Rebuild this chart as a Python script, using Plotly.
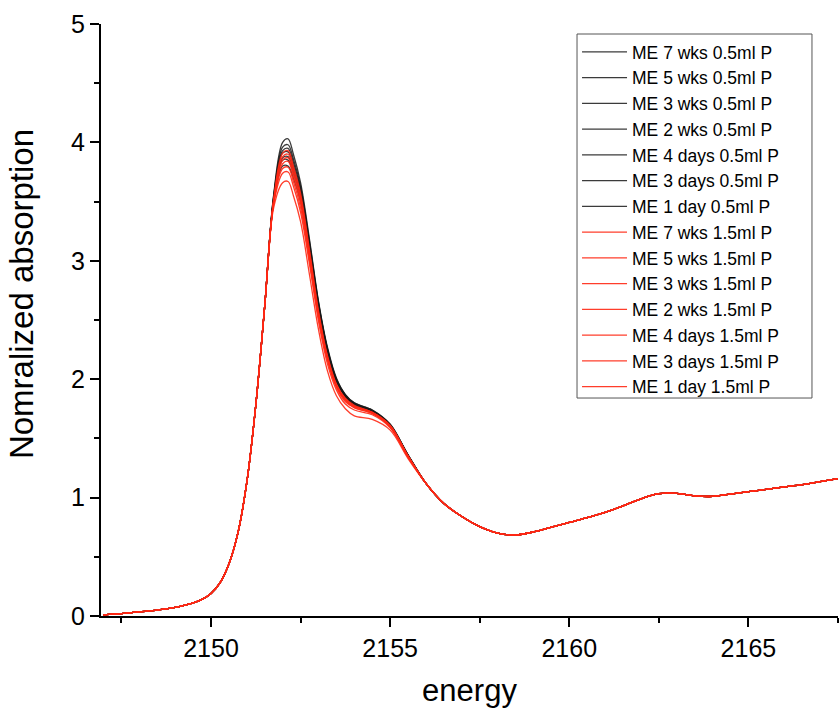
import plotly.graph_objects as go

# ---- energy grid (eV) ----
energy_rise = [2147.0, 2147.5, 2148.0, 2148.5, 2148.75, 2149.0, 2149.25, 2149.5, 2149.75,
               2150.0, 2150.25, 2150.5, 2150.75, 2151.0, 2151.25, 2151.5]
energy_peak = [2151.75, 2152.0, 2152.15, 2152.3, 2152.5, 2152.75, 2153.0, 2153.25,
               2153.5, 2153.75, 2154.0, 2154.5, 2155.0, 2155.5]
energy_tail = [2156.0, 2156.5, 2157.0, 2157.5, 2158.0, 2158.5, 2159.0, 2159.5,
               2160.0, 2160.5, 2161.0, 2161.5, 2162.0, 2162.5, 2163.0, 2163.5,
               2164.0, 2164.5, 2165.0, 2165.5, 2166.0, 2166.5, 2167.0, 2167.5]

# ---- shared parts of the spectra (all samples overlap here) ----
mu_rise = [0.01, 0.02, 0.035, 0.05, 0.06, 0.073, 0.09, 0.11, 0.14,
           0.19, 0.28, 0.44, 0.70, 1.13, 1.78, 2.62]
mu_tail = [1.12, 0.95, 0.84, 0.755, 0.70, 0.685, 0.71, 0.75, 0.79, 0.83, 0.875, 0.93,
           0.99, 1.033, 1.035, 1.015, 1.01, 1.03, 1.05, 1.07, 1.09, 1.11, 1.135, 1.16]

# ---- white-line / shoulder region, per sample ----
names = ["ME 7 wks 0.5ml P", "ME 5 wks 0.5ml P", "ME 3 wks 0.5ml P", "ME 2 wks 0.5ml P",
         "ME 4 days 0.5ml P", "ME 3 days 0.5ml P", "ME 1 day 0.5ml P",
         "ME 7 wks 1.5ml P", "ME 5 wks 1.5ml P", "ME 3 wks 1.5ml P", "ME 2 wks 1.5ml P",
         "ME 4 days 1.5ml P", "ME 3 days 1.5ml P", "ME 1 day 1.5ml P"]

peak_b7w = [3.56, 4.00, 4.03, 3.90, 3.66, 3.18, 2.66, 2.27, 2.01, 1.87, 1.80, 1.74, 1.62, 1.36]
peak_b5w = [3.55, 3.96, 3.98, 3.86, 3.63, 3.16, 2.65, 2.26, 2.00, 1.87, 1.80, 1.74, 1.62, 1.36]
peak_b3w = [3.54, 3.93, 3.95, 3.83, 3.61, 3.14, 2.64, 2.25, 2.00, 1.86, 1.79, 1.73, 1.61, 1.36]
peak_b2w = [3.53, 3.91, 3.92, 3.80, 3.59, 3.13, 2.63, 2.25, 1.99, 1.86, 1.79, 1.73, 1.61, 1.36]
peak_b4d = [3.52, 3.87, 3.88, 3.77, 3.56, 3.11, 2.62, 2.24, 1.99, 1.86, 1.79, 1.73, 1.61, 1.35]
peak_b3d = [3.51, 3.85, 3.85, 3.74, 3.54, 3.10, 2.61, 2.23, 1.98, 1.85, 1.78, 1.72, 1.61, 1.35]
peak_b1d = [3.50, 3.80, 3.80, 3.70, 3.50, 3.07, 2.59, 2.22, 1.98, 1.85, 1.78, 1.72, 1.60, 1.35]
peak_r7w = [3.52, 3.91, 3.93, 3.80, 3.57, 3.09, 2.58, 2.20, 1.96, 1.84, 1.78, 1.72, 1.61, 1.35]
peak_r5w = [3.51, 3.88, 3.90, 3.77, 3.54, 3.07, 2.56, 2.19, 1.95, 1.83, 1.77, 1.72, 1.61, 1.35]
peak_r3w = [3.50, 3.85, 3.87, 3.74, 3.52, 3.05, 2.55, 2.18, 1.95, 1.83, 1.77, 1.72, 1.60, 1.35]
peak_r2w = [3.50, 3.82, 3.84, 3.71, 3.49, 3.03, 2.54, 2.17, 1.94, 1.82, 1.76, 1.71, 1.60, 1.35]
peak_r4d = [3.49, 3.78, 3.79, 3.67, 3.45, 3.00, 2.52, 2.16, 1.93, 1.81, 1.76, 1.71, 1.60, 1.35]
peak_r3d = [3.48, 3.74, 3.75, 3.63, 3.41, 2.97, 2.49, 2.13, 1.91, 1.79, 1.74, 1.70, 1.59, 1.34]
peak_r1d = [3.45, 3.66, 3.67, 3.55, 3.33, 2.88, 2.42, 2.07, 1.86, 1.75, 1.69, 1.66, 1.57, 1.33]

peaks = [peak_b7w, peak_b5w, peak_b3w, peak_b2w, peak_b4d, peak_b3d, peak_b1d,
         peak_r7w, peak_r5w, peak_r3w, peak_r2w, peak_r4d, peak_r3d, peak_r1d]
groups = ["black"] * 7 + ["red"] * 7

x_ticks = [2150, 2155, 2160, 2165]
y_ticks = [0, 1, 2, 3, 4, 5]

energy = energy_rise + energy_peak + energy_tail

FONT = "Liberation Sans, Arial, sans-serif"
colors = {"black": "rgba(25,25,25,0.85)", "red": "rgba(255,40,20,0.9)"}

fig = go.Figure()
for name, pk, g in zip(names, peaks, groups):
    fig.add_trace(go.Scatter(
        x=energy, y=mu_rise + pk + mu_tail, name=name, mode="lines",
        line=dict(color=colors[g], width=1.3, shape="spline", smoothing=1.0),
    ))

axis_common = dict(
    showline=True, linecolor="black", linewidth=2,
    ticks="outside", tickcolor="black", tickwidth=2, ticklen=9,
    showgrid=False, zeroline=False, mirror=False,
    tickfont=dict(family=FONT, size=25, color="black"),
    minor=dict(ticks="outside", ticklen=5, tickwidth=2, tickcolor="black", showgrid=False),
)

fig.update_xaxes(range=[2146.93, 2167.5], tickvals=x_ticks, dtick=5,
                 minor_dtick=2.5, minor_tick0=2147.5,
                 title=dict(text="energy", font=dict(family=FONT, size=31, color="black"), standoff=18),
                 **axis_common)
fig.update_yaxes(range=[0, 5], tickvals=y_ticks, dtick=1,
                 minor_dtick=0.5, minor_tick0=0,
                 **axis_common)

# plot area: x 101..838 px, y 24..616 px
fig.add_annotation(text="Nomralized absorption", textangle=-90,
                   xref="paper", yref="paper", x=-0.107, y=0.544,
                   xanchor="center", yanchor="middle", showarrow=False,
                   font=dict(family=FONT, size=33, color="black"))

# legend frame
fig.add_shape(type="rect", xref="paper", yref="paper",
              x0=0.6459, x1=0.9647, y0=0.3682, y1=0.9831,
              line=dict(color="#555555", width=1), fillcolor="rgba(0,0,0,0)", layer="above")

fig.update_layout(
    width=839, height=710,
    margin=dict(l=101, r=1, t=24, b=94),
    paper_bgcolor="white", plot_bgcolor="white",
    showlegend=True,
    legend=dict(x=0.6459, y=0.9831, xanchor="left", yanchor="top",
                bgcolor="rgba(0,0,0,0)", borderwidth=0, itemwidth=45,
                font=dict(family=FONT, size=17.5, color="black"),
                tracegroupgap=0),
)

fig.write_html("out.html")
